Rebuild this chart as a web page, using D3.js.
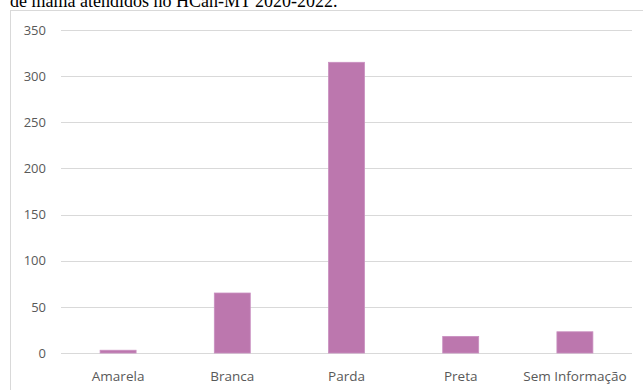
<!DOCTYPE html>
<html><head><meta charset="utf-8">
<script src="https://cdn.jsdelivr.net/npm/d3@7"></script>
<style>body{margin:0;background:#fff}svg{display:block}</style>
</head><body>
<script>
const categories = ["Amarela", "Branca", "Parda", "Preta", "Sem Informação"];
const values = [3, 65, 315, 18, 23];
const yTicks = [0, 50, 100, 150, 200, 250, 300, 350];
const caption = "de mama atendidos no HCan-MT 2020-2022.";

const W = 643, H = 390;
const svg = d3.select("body").append("svg").attr("width", W).attr("height", H);

// caption (clipped at top, as in the source)
svg.append("text").attr("x", 10).attr("y", 7)
  .attr("font-family", "Liberation Serif, Times New Roman, serif")
  .attr("font-size", 18).attr("fill", "#000").text(caption);

// chart frame
svg.append("rect").attr("x", 10.5).attr("y", 10.5).attr("width", 640).attr("height", 390)
  .attr("fill", "#fff").attr("stroke", "#d9d9d9").attr("stroke-width", 1);

const m = {left: 61, right: 632, top: 30, bottom: 353};
const x = d3.scaleBand().domain(categories).range([m.left, m.right]).paddingInner(0.685).paddingOuter(0.3425);
const y = d3.scaleLinear().domain([0, 350]).range([m.bottom, m.top]);

const g = svg.append("g");
g.selectAll("line.grid").data(yTicks).join("line")
  .attr("x1", m.left).attr("x2", m.right)
  .attr("y1", d => Math.round(y(d)) + 0.5).attr("y2", d => Math.round(y(d)) + 0.5)
  .attr("stroke", "#d9d9d9").attr("stroke-width", 1);

const yAxis = d3.axisLeft(y).tickValues(yTicks).tickSize(0).tickPadding(0);
const ya = svg.append("g").attr("transform", `translate(46,0)`).call(yAxis);
ya.select(".domain").remove();
ya.selectAll("text").attr("font-family", "Open Sans, Carlito, Liberation Sans, sans-serif")
  .attr("font-size", 13).attr("fill", "#595959");

g.selectAll("rect.bar").data(values).join("rect").attr("class", "bar")
  .attr("x", (d, i) => x(categories[i]))
  .attr("width", x.bandwidth())
  .attr("y", d => y(d))
  .attr("height", d => y(0) - y(d))
  .attr("fill", "#bc77ae").attr("stroke", "#c98fc0").attr("stroke-width", 0.8);

const xAxis = d3.axisBottom(x).tickSize(0).tickPadding(0);
const xa = svg.append("g").attr("transform", `translate(0,${m.bottom + 18})`).call(xAxis);
xa.select(".domain").remove();
xa.selectAll("text").attr("font-family", "Open Sans, Carlito, Liberation Sans, sans-serif")
  .attr("font-size", 13.5).attr("fill", "#595959");
</script>
</body></html>
